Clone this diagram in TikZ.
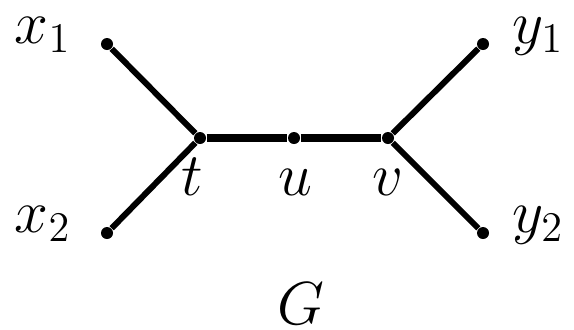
\documentclass[tikz,border=0pt]{standalone}
\begin{document}
\begin{tikzpicture}[x=0.01cm,y=-0.01cm,
  vert/.style={circle,fill=black,inner sep=0pt,minimum size=0.12cm},
  lbl/.style={anchor=base,inner sep=0pt,font=\fontsize{17.3}{21}\selectfont},
  edge/.style={line width=1.7pt},
  midedge/.style={line width=2.2pt}]
\useasboundingbox (0,0) rectangle (574,329);
\node[vert] (x1) at (107,44) {};
\node[vert] (x2) at (107,233) {};
\node[vert] (t) at (200,138) {};
\node[vert] (u) at (294,138) {};
\node[vert] (v) at (388,138) {};
\node[vert] (y1) at (483,44) {};
\node[vert] (y2) at (483,233) {};
\draw[edge] (x1) -- (t) -- (x2);
\draw[edge] (y1) -- (v) -- (y2);
\draw[midedge] (t) -- (u) -- (v);
\node[lbl] (lx1) at (43,43) {$x_1$};
\node[lbl] (lx2) at (43,232) {$x_2$};
\node[lbl] (ly1) at (538,43) {$y_1$};
\node[lbl] (ly2) at (538,232) {$y_2$};
\node[lbl] (lt) at (192,195) {$t$};
\node[lbl] (lu) at (295,195) {$u$};
\node[lbl] (lv) at (388,195) {$v$};
\node[lbl] (lG) at (301,324) {$G$};
\end{tikzpicture}
\end{document}
